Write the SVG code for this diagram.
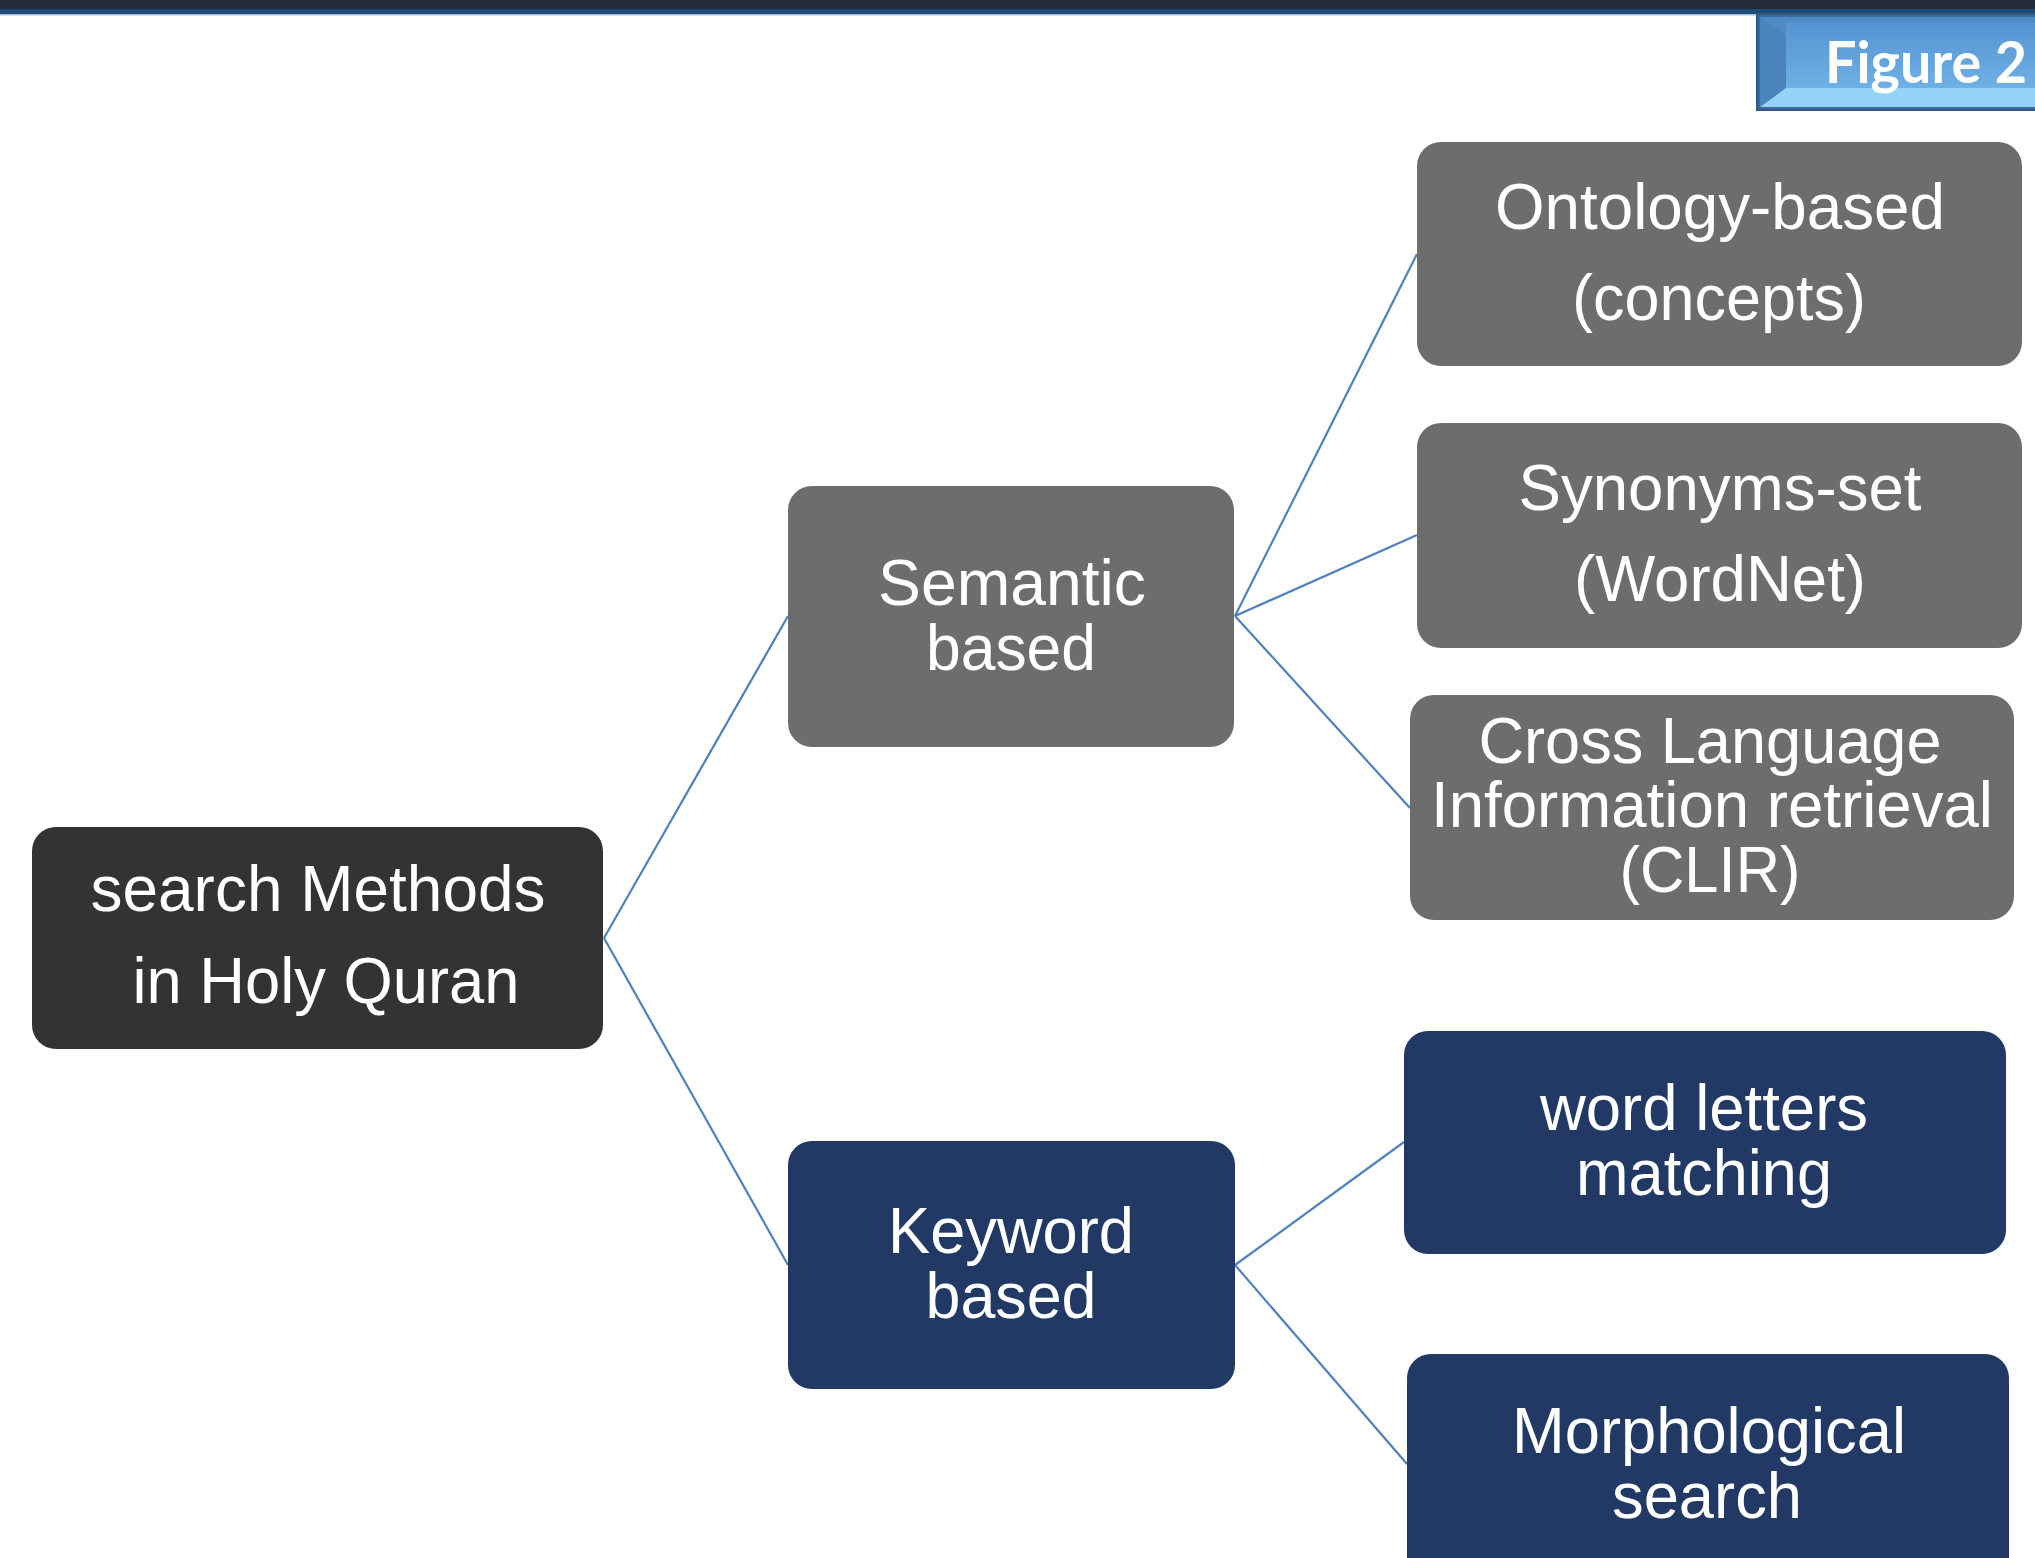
<svg xmlns="http://www.w3.org/2000/svg" width="2035" height="1558" viewBox="0 0 2035 1558">
<style>
.t{font-family:"Liberation Sans",Arial,sans-serif;font-size:65px;fill:#ffffff;text-anchor:middle}
.root{fill:#333333}
.gray{fill:#6d6d6d}
.navy{fill:#213964}
.conn line{stroke:#4f81bd;stroke-width:2.2;fill:none}
</style>
<defs>
<linearGradient id="badge" x1="0" y1="0" x2="0" y2="1">
<stop offset="0" stop-color="#5593d0"/>
<stop offset="1" stop-color="#6fb0e6"/>
</linearGradient>
</defs>
<rect x="0" y="0" width="2035" height="1558" fill="#ffffff"/>
<g id="topbar">
<rect x="0" y="0" width="2035" height="9" fill="#252c38"/>
<rect x="0" y="9" width="2035" height="5" fill="#1f4b78"/>
<rect x="0" y="14" width="2035" height="1.5" fill="#a6bdd3"/>
</g>
<g id="figure-badge">
<rect x="1757" y="14" width="290" height="96" fill="#3c6a9e" stroke="#33597f" stroke-width="2"/>
<polygon points="1760,17 2040,17 2040,22 1786,37" fill="#4e8ac6"/>
<polygon points="1760,17 1786,37 1786,88 1760,107" fill="#4b84bd"/>
<polygon points="1760,107 1786,88 2040,88 2040,107" fill="#93d3f6"/>
<rect x="1786" y="22" width="254" height="66" fill="url(#badge)"/>
<text x="1825" y="83" font-family="Lato,'Open Sans',sans-serif" font-weight="700" font-size="58" fill="#ffffff" textLength="202" lengthAdjust="spacingAndGlyphs">Figure 2</text>
</g>
<g id="connectors" class="conn">
<line x1="604" y1="938" x2="788" y2="616"/>
<line x1="604" y1="938" x2="788" y2="1265"/>
<line x1="1235" y1="616" x2="1417" y2="254"/>
<line x1="1235" y1="616" x2="1417" y2="535"/>
<line x1="1235" y1="616" x2="1410" y2="808"/>
<line x1="1235" y1="1265" x2="1404" y2="1142"/>
<line x1="1235" y1="1265" x2="1407" y2="1464"/>
</g>
<g id="node-root">
<rect class="root" x="32" y="827" width="571" height="222" rx="24"/>
<text class="t" x="318" y="911" textLength="455" lengthAdjust="spacingAndGlyphs">search Methods</text>
<text class="t" x="326" y="1003" textLength="387" lengthAdjust="spacingAndGlyphs">in Holy Quran</text>
</g>
<g id="node-semantic">
<rect class="gray" x="788" y="486" width="446" height="261" rx="24"/>
<text class="t" x="1012" y="605" textLength="268" lengthAdjust="spacingAndGlyphs">Semantic</text>
<text class="t" x="1011" y="670" textLength="170" lengthAdjust="spacingAndGlyphs">based</text>
</g>
<g id="node-keyword">
<rect class="navy" x="788" y="1141" width="447" height="248" rx="24"/>
<text class="t" x="1011" y="1253" textLength="246" lengthAdjust="spacingAndGlyphs">Keyword</text>
<text class="t" x="1011" y="1318" textLength="171" lengthAdjust="spacingAndGlyphs">based</text>
</g>
<g id="node-ontology">
<rect class="gray" x="1417" y="142" width="605" height="224" rx="24"/>
<text class="t" x="1720" y="229" textLength="450" lengthAdjust="spacingAndGlyphs">Ontology-based</text>
<text class="t" x="1719" y="320" textLength="294" lengthAdjust="spacingAndGlyphs">(concepts)</text>
</g>
<g id="node-synonyms">
<rect class="gray" x="1417" y="423" width="605" height="225" rx="24"/>
<text class="t" x="1720" y="510" textLength="403" lengthAdjust="spacingAndGlyphs">Synonyms-set</text>
<text class="t" x="1720" y="601" textLength="292" lengthAdjust="spacingAndGlyphs">(WordNet)</text>
</g>
<g id="node-clir">
<rect class="gray" x="1410" y="695" width="604" height="225" rx="24"/>
<text class="t" x="1710" y="763" textLength="463" lengthAdjust="spacingAndGlyphs">Cross Language</text>
<text class="t" x="1712" y="827" textLength="562" lengthAdjust="spacingAndGlyphs">Information retrieval</text>
<text class="t" x="1710" y="892" textLength="181" lengthAdjust="spacingAndGlyphs">(CLIR)</text>
</g>
<g id="node-word-letters">
<rect class="navy" x="1404" y="1031" width="602" height="223" rx="24"/>
<text class="t" x="1704" y="1130" textLength="328" lengthAdjust="spacingAndGlyphs">word letters</text>
<text class="t" x="1704" y="1195" textLength="256" lengthAdjust="spacingAndGlyphs">matching</text>
</g>
<g id="node-morphological">
<rect class="navy" x="1407" y="1354" width="602" height="230" rx="24"/>
<text class="t" x="1709" y="1453" textLength="394" lengthAdjust="spacingAndGlyphs">Morphological</text>
<text class="t" x="1707" y="1518" textLength="190" lengthAdjust="spacingAndGlyphs">search</text>
</g>
</svg>
